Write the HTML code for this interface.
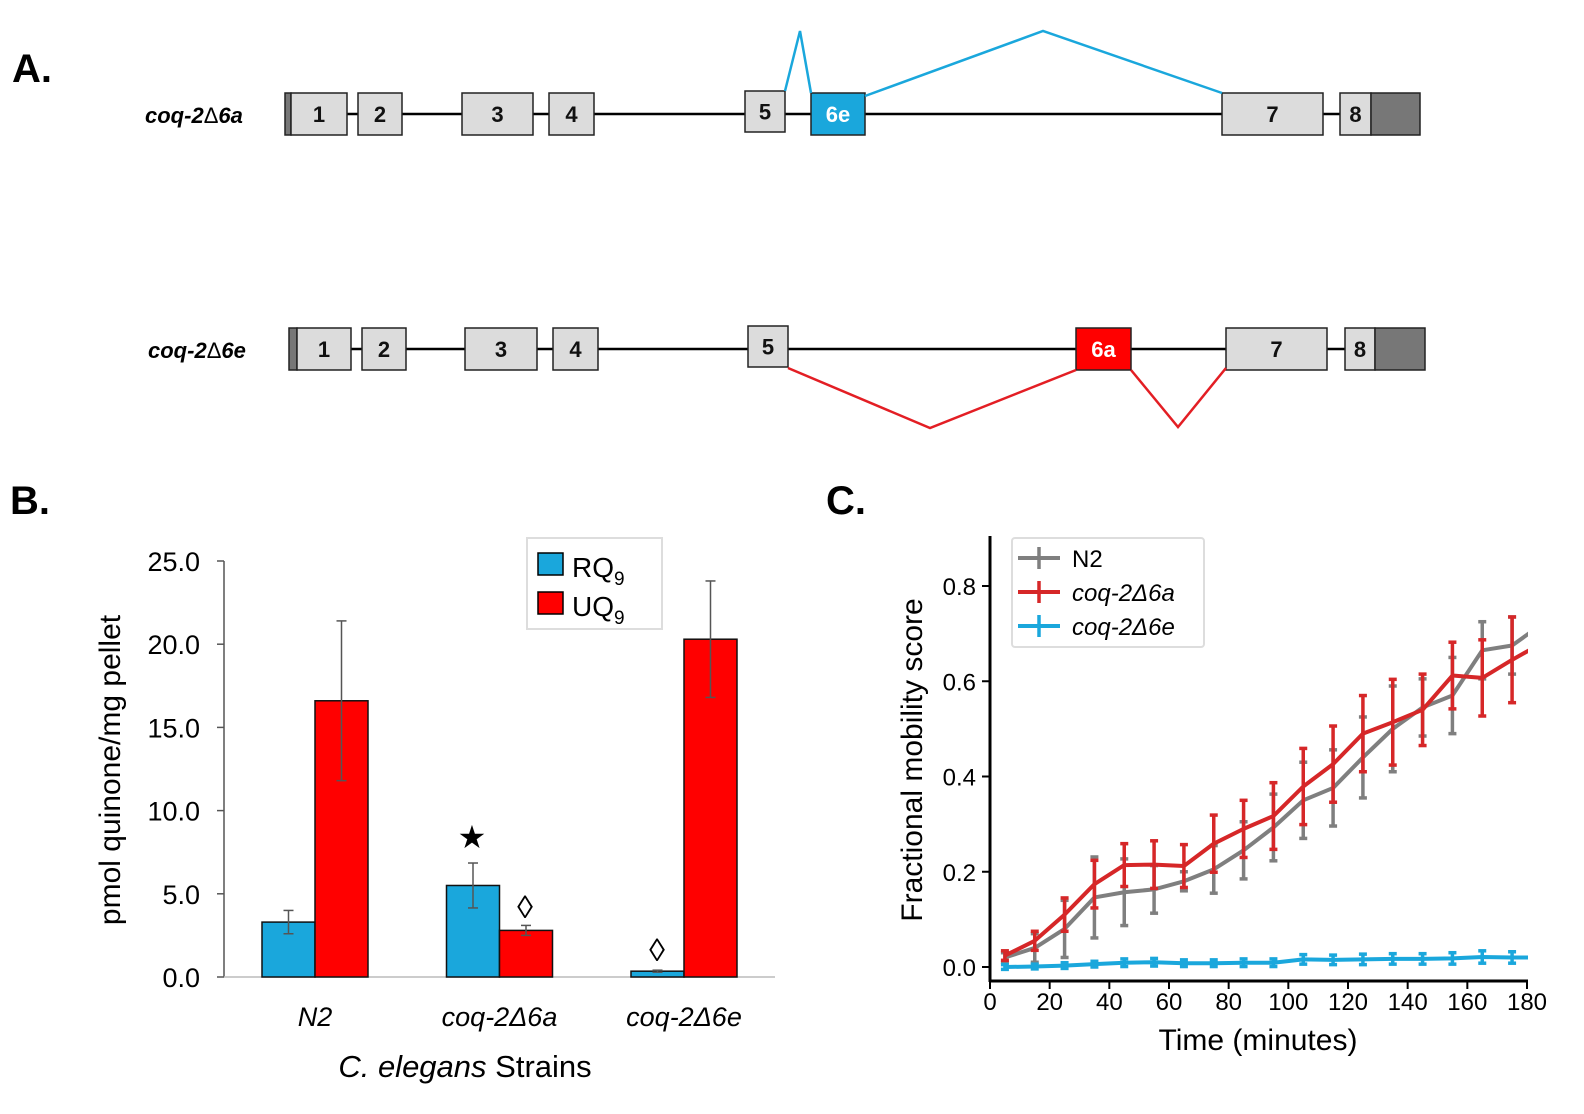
<!DOCTYPE html>
<html><head><meta charset="utf-8"><style>
body{margin:0;background:#fff;}
svg{display:block;font-family:"Liberation Sans",Arial,sans-serif;}
</style></head><body>
<svg id="fig" width="1584" height="1114" viewBox="0 0 1584 1114">
<g>
<text x="12" y="82" font-size="40" font-weight="bold">A.</text>
<text x="145" y="123" font-size="22" font-weight="bold" font-style="italic">coq-2<tspan font-style="normal" font-weight="normal">Δ</tspan>6a</text>
<line x1="287" y1="114" x2="1420" y2="114" stroke="#000" stroke-width="2.5"/>
<g id="top-exons"></g>
<polyline points="785,91 800,31 811,93" fill="none" stroke="#1aa7dc" stroke-width="2.5"/>
<polyline points="865,96 1043,31 1222,93" fill="none" stroke="#1aa7dc" stroke-width="2.5"/>
<text x="148" y="358" font-size="22" font-weight="bold" font-style="italic">coq-2<tspan font-style="normal" font-weight="normal">Δ</tspan>6e</text>
<line x1="290" y1="349" x2="1425" y2="349" stroke="#000" stroke-width="2.5"/>
<g id="bot-exons"></g>
<polyline points="788,368 930,428 1076,370" fill="none" stroke="#e31e24" stroke-width="2.5"/>
<polyline points="1131,370 1178,427 1226,368" fill="none" stroke="#e31e24" stroke-width="2.5"/>
</g>

<g>
<text x="10" y="514" font-size="40" font-weight="bold">B.</text>
<g id="bchart"></g>
<text transform="translate(120,770) rotate(-90)" text-anchor="middle" font-size="30">pmol quinone/mg pellet</text>
<text x="465" y="1077" text-anchor="middle" font-size="31"><tspan font-style="italic">C. elegans</tspan> Strains</text>
<g>
<rect x="527" y="538" width="135" height="91" fill="#fff" stroke="#ddd" stroke-width="2"/>
<rect x="538" y="553" width="25" height="22" fill="#1aa7dc" stroke="#000" stroke-width="1.5"/>
<text x="572" y="577" font-size="28">RQ<tspan font-size="19" dy="8">9</tspan></text>
<rect x="538" y="592" width="25" height="22" fill="#ff0000" stroke="#000" stroke-width="1.5"/>
<text x="572" y="616" font-size="28">UQ<tspan font-size="19" dy="8">9</tspan></text>
</g>
<text x="472" y="848" text-anchor="middle" font-size="32">★</text>
<text x="525" y="918" text-anchor="middle" font-size="32">◊</text>
<text x="657" y="961" text-anchor="middle" font-size="32">◊</text>
</g>

<g>
<text x="826" y="514" font-size="40" font-weight="bold">C.</text>
<defs><clipPath id="cclip"><rect x="991" y="530" width="537" height="460"/></clipPath></defs>
<g id="cchart"></g>
<text transform="translate(922,760) rotate(-90)" text-anchor="middle" font-size="30">Fractional mobility score</text>
<text x="1258" y="1050" text-anchor="middle" font-size="30">Time (minutes)</text>
<g>
<rect x="1012" y="538" width="192" height="109" rx="3" fill="#fff" stroke="#ddd" stroke-width="2"/>
<g id="clegend"></g>
</g>
</g>
</svg>
<script>
const NS='http://www.w3.org/2000/svg';
function mk(tag,attrs,parent){const e=document.createElementNS(NS,tag);for(const k in attrs)e.setAttribute(k,attrs[k]);parent.appendChild(e);return e;}

// ---------- Panel A gene exons ----------
const topExonLabels=['','1','2','3','4','5','6e','7','8',''];
const topExonX=[[285,291],[291,347],[358,402],[462,533],[549,594],[745,785],[811,865],[1222,1323],[1340,1371],[1371,1420]];
const botExonLabels=['','1','2','3','4','5','6a','7','8',''];
const botExonX=[[289,297],[297,351],[362,406],[465,537],[553,598],[748,788],[1076,1131],[1226,1327],[1345,1375],[1375,1425]];
function drawExons(g,labels,xs,y0,y1,special,specialColor){
  labels.forEach((l,i)=>{
    let fill='#dcdcdc';
    if(l==='')fill='#777';
    if(l===special)fill=specialColor;
    let top=y0,bot=y1;
    if(l==='5'){top=y0-2;bot=y1-3;}
    const r=mk('rect',{x:xs[i][0],y:top,width:xs[i][1]-xs[i][0],height:bot-top,fill:fill,stroke:'#222','stroke-width':1.5},g);
    
    
    if(l){const t=mk('text',{x:(xs[i][0]+xs[i][1])/2,y:(top+bot)/2+8,'text-anchor':'middle','font-size':22,'font-weight':'bold',fill:l===special?'#fff':'#111'},g);t.textContent=l;
    
    }
  });
}
drawExons(document.getElementById('top-exons'),topExonLabels,topExonX,93,135,'6e','#1aa7dc');
drawExons(document.getElementById('bot-exons'),botExonLabels,botExonX,328,370,'6a','#ff0000');

// ---------- Panel B bar chart ----------
const bCategories=['N2','coq-2Δ6a','coq-2Δ6e'];
const rqValues=[3.3,5.5,0.35];
const rqErrors=[0.7,1.35,0.06];
const uqValues=[16.6,2.8,20.3];
const uqErrors=[4.8,0.3,3.5];
const bTicks=[0,5,10,15,20,25];
const bTickLabels=['0.0','5.0','10.0','15.0','20.0','25.0'];
(function(){
  const g=document.getElementById('bchart');
  const y=v=>977-v*(416/25);
  const groupCenter=i=>315+i*184.5;
  const bw=53;
  const ax=mk('line',{x1:224,y1:y(25),x2:224,y2:977,stroke:'#555','stroke-width':1.5},g);
  
  
  const xa=mk('line',{x1:224,y1:977,x2:775,y2:977,stroke:'#bbb','stroke-width':1.5},g);
  
  
  bTicks.forEach((t,i)=>{
    mk('line',{x1:217,y1:y(t),x2:224,y2:y(t),stroke:'#555','stroke-width':1.5},g);
    const tx=mk('text',{x:200,y:y(t)+10,'text-anchor':'end','font-size':27},g);tx.textContent=bTickLabels[i];
    
    
  });
  bCategories.forEach((c,i)=>{
    const cx=groupCenter(i);
    [[rqValues,rqErrors,'#1aa7dc',-bw,'rq9'],[uqValues,uqErrors,'#ff0000',0,'uq9']].forEach(s=>{
      const v=s[0][i],e=s[1][i];
      const r=mk('rect',{x:cx+s[3],y:y(v),width:bw,height:977-y(v),fill:s[2],stroke:'#111','stroke-width':1.5},g);
      
      
      const ex=cx+s[3]+bw/2;
      mk('line',{x1:ex,y1:y(v+e),x2:ex,y2:y(v-e),stroke:'#555','stroke-width':1.5},g);
      mk('line',{x1:ex-5,y1:y(v+e),x2:ex+5,y2:y(v+e),stroke:'#555','stroke-width':1.5},g);
      mk('line',{x1:ex-5,y1:y(v-e),x2:ex+5,y2:y(v-e),stroke:'#555','stroke-width':1.5},g);
    });
    const t=mk('text',{x:cx,y:1026,'text-anchor':'middle','font-size':27,'font-style':'italic'},g);t.textContent=c;
    
    
  });
})();

// ---------- Panel C line chart ----------
const cTimes=[5,15,25,35,45,55,65,75,85,95,105,115,125,135,145,155,165,175,185];
const n2Values=[0.02,0.04,0.08,0.146,0.157,0.163,0.18,0.205,0.245,0.293,0.35,0.376,0.44,0.50,0.545,0.57,0.665,0.675,0.72];
const n2Errors=[0.01,0.03,0.06,0.085,0.07,0.05,0.02,0.05,0.06,0.07,0.08,0.08,0.085,0.09,0.06,0.08,0.06,0.06,0.06];
const a6Values=[0.024,0.055,0.11,0.174,0.214,0.215,0.212,0.259,0.29,0.317,0.379,0.426,0.49,0.514,0.54,0.612,0.607,0.645,0.68];
const a6Errors=[0.01,0.02,0.035,0.05,0.045,0.05,0.045,0.06,0.06,0.07,0.08,0.08,0.08,0.09,0.075,0.07,0.08,0.09,0.09];
const e6Values=[0.0,0.001,0.003,0.006,0.009,0.01,0.008,0.008,0.009,0.009,0.016,0.015,0.016,0.017,0.017,0.018,0.021,0.02,0.02];
const e6Errors=[0.005,0.005,0.006,0.006,0.008,0.008,0.007,0.007,0.008,0.008,0.01,0.01,0.011,0.011,0.011,0.012,0.013,0.012,0.012];
const cXTicks=[0,20,40,60,80,100,120,140,160,180];
const cYTicks=[0,0.2,0.4,0.6,0.8];
const cYTickLabels=['0.0','0.2','0.4','0.6','0.8'];
const cSeriesNames=['N2','coq-2Δ6a','coq-2Δ6e'];
(function(){
  const g=document.getElementById('cchart');
  const x=t=>990+t*(537/180);
  const y=v=>967-v*476.25;
  const ya=mk('line',{x1:990,y1:536,x2:990,y2:982,stroke:'#000','stroke-width':3},g);
  
  
  const xa=mk('line',{x1:989,y1:981,x2:1528,y2:981,stroke:'#000','stroke-width':3},g);
  
  
  cYTicks.forEach((t,i)=>{
    mk('line',{x1:982,y1:y(t),x2:990,y2:y(t),stroke:'#000','stroke-width':2},g);
    const tx=mk('text',{x:976,y:y(t)+9,'text-anchor':'end','font-size':24},g);tx.textContent=cYTickLabels[i];
    
    
  });
  cXTicks.forEach(t=>{
    mk('line',{x1:x(t),y1:981,x2:x(t),y2:989,stroke:'#000','stroke-width':2},g);
    const tx=mk('text',{x:x(t),y:1010,'text-anchor':'middle','font-size':24},g);tx.textContent=t;
    
    
  });
  const cg=mk('g',{'clip-path':'url(#cclip)'},g);
  const series=[[n2Values,n2Errors,'#7f7f7f','n2'],[a6Values,a6Errors,'#d62728','coq-2-6a'],[e6Values,e6Errors,'#1aa7dc','coq-2-6e']];
  series.forEach(s=>{
    const sg=mk('g',{},cg);
    
    
    cTimes.forEach((t,i)=>{
      const v=s[0][i],e=s[1][i],px=x(t);
      mk('line',{x1:px,y1:y(v+e),x2:px,y2:y(v-e),stroke:s[2],'stroke-width':3.5},sg);
      mk('line',{x1:px-4,y1:y(v+e),x2:px+4,y2:y(v+e),stroke:s[2],'stroke-width':3.5},sg);
      mk('line',{x1:px-4,y1:y(v-e),x2:px+4,y2:y(v-e),stroke:s[2],'stroke-width':3.5},sg);
    });
    const pl=mk('polyline',{points:cTimes.map((t,i)=>x(t)+','+y(s[0][i])).join(' '),fill:'none',stroke:s[2],'stroke-width':4,'stroke-linejoin':'round'},sg);
    
    
  });
  const lg=document.getElementById('clegend');
  series.forEach((s,i)=>{
    const ly=558+i*34;
    mk('line',{x1:1018,y1:ly,x2:1060,y2:ly,stroke:s[2],'stroke-width':4},lg);
    mk('line',{x1:1039,y1:ly-11,x2:1039,y2:ly+11,stroke:s[2],'stroke-width':3.5},lg);
    const t=mk('text',{x:1072,y:ly+9,'font-size':24,'font-style':i? 'italic':'normal'},lg);t.textContent=cSeriesNames[i];
    
    
  });
})();
</script>
</body></html>
